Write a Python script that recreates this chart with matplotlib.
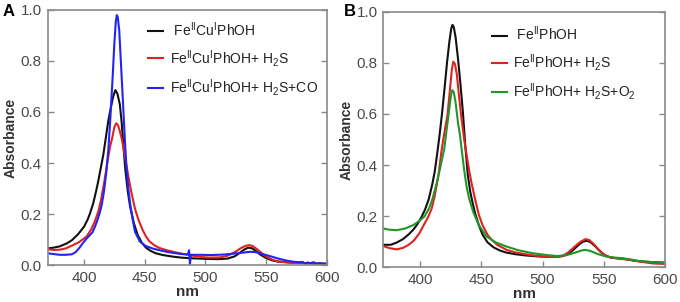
"""
UV-vis spectra, two panels (A: Fe/Cu complex, B: Fe only)
absorbance vs wavelength, values read off the original figure
"""
from matplotlib import pyplot as plt
import numpy as np

plt.rcParams['font.family'] = ['Liberation Sans', 'DejaVu Sans']

# ---------------- panel A data ----------------
a_wl_black = [370, 375, 380, 386, 390, 395, 400, 403, 405, 407.5, 410, 412, 414, 416, 418, 420, 422, 424, 425.8,
              427.5, 429.5, 431, 432.5, 434, 436, 438, 441, 444, 447.5, 451, 455, 459, 465, 473, 480, 490, 500, 510,
              518, 524, 528, 532, 535, 538, 541, 545, 550, 555, 560, 570, 580, 590, 600]
a_black = [0.065, 0.068, 0.073, 0.085, 0.097, 0.120, 0.150, 0.178, 0.203, 0.240, 0.290, 0.335, 0.385, 0.435, 0.500,
           0.565, 0.615, 0.660, 0.686, 0.672, 0.630, 0.560, 0.465, 0.375, 0.290, 0.228, 0.165, 0.120, 0.088, 0.068,
           0.055, 0.046, 0.039, 0.033, 0.029, 0.026, 0.024, 0.023, 0.025, 0.034, 0.047, 0.061, 0.068, 0.066, 0.057,
           0.041, 0.027, 0.018, 0.013, 0.010, 0.008, 0.006, 0.005]

a_wl_red = [370, 375, 380, 385, 391, 396, 402, 406, 409, 411.8, 414, 416.5, 419.5, 421.5, 423.3, 425, 426.5, 428,
            429.5, 431, 433, 435, 437, 439, 442, 445, 448, 451, 454, 458, 462, 468, 475, 482, 490, 497, 504, 512, 518,
            524, 529, 533, 536, 539, 543, 547, 551, 556, 561, 570, 580, 590, 600]
a_red = [0.062, 0.059, 0.060, 0.065, 0.078, 0.090, 0.111, 0.140, 0.172, 0.210, 0.255, 0.320, 0.410, 0.465, 0.500,
         0.540, 0.556, 0.548, 0.525, 0.497, 0.445, 0.390, 0.335, 0.285, 0.220, 0.175, 0.140, 0.112, 0.092, 0.077,
         0.067, 0.058, 0.050, 0.043, 0.036, 0.031, 0.029, 0.030, 0.036, 0.050, 0.066, 0.075, 0.078, 0.074, 0.060,
         0.043, 0.030, 0.019, 0.013, 0.009, 0.007, 0.006, 0.005]

a_wl_blue = [370, 375, 380, 385, 390, 393, 396, 399, 402, 405, 407, 409, 411, 413, 414.6, 416.5, 418.5, 420, 421.5,
             423.6, 425, 426.2, 427, 427.8, 429, 430, 431, 432.5, 433.8, 435, 436.5, 438, 440, 442, 446, 451, 457,
             463, 470, 480, 485.5, 486.5, 487.2, 488, 495, 505, 515, 522, 530, 537, 542, 547, 553, 560, 567, 572,
             577, 580, 582, 584, 586, 589, 592, 594, 597, 600]
a_blue = [0.046, 0.043, 0.040, 0.040, 0.042, 0.050, 0.066, 0.085, 0.103, 0.118, 0.128, 0.150, 0.175, 0.205, 0.235,
          0.290, 0.370, 0.450, 0.560, 0.738, 0.870, 0.955, 0.980, 0.972, 0.920, 0.830, 0.738, 0.600, 0.477, 0.380,
          0.300, 0.240, 0.180, 0.130, 0.092, 0.074, 0.064, 0.057, 0.050, 0.043, 0.042, 0.058, 0.002, 0.040, 0.040,
          0.039, 0.041, 0.044, 0.048, 0.052, 0.050, 0.043, 0.035, 0.025, 0.017, 0.013, 0.011, 0.012, 0.005, 0.010,
          0.007, 0.011, 0.003, 0.008, 0.004, 0.005]

# ---------------- panel B data ----------------
b_wl_black = [370, 376, 381, 386, 391, 395, 398, 401, 404, 407, 410, 412, 414, 416, 418, 420, 422, 424, 425.5, 426.5,
              427.5, 429, 431, 433, 435, 437, 439, 441, 443, 445, 448, 451, 455, 460, 465, 470, 478, 487, 495, 505,
              512, 518, 522, 526, 530, 533, 536, 539, 543, 547, 551, 555, 560, 565, 570, 575, 580, 590, 600]
b_black = [0.088, 0.088, 0.097, 0.110, 0.130, 0.150, 0.170, 0.195, 0.225, 0.265, 0.325, 0.375, 0.445, 0.520, 0.605,
           0.700, 0.800, 0.885, 0.935, 0.948, 0.940, 0.900, 0.815, 0.715, 0.605, 0.470, 0.360, 0.295, 0.250, 0.210,
           0.165, 0.128, 0.098, 0.078, 0.066, 0.058, 0.051, 0.046, 0.043, 0.041, 0.041, 0.046, 0.056, 0.072, 0.090,
           0.100, 0.104, 0.099, 0.082, 0.062, 0.047, 0.039, 0.036, 0.034, 0.030, 0.026, 0.023, 0.020, 0.018]

b_wl_red = [370, 375, 381, 386, 390.4, 395, 399.4, 403, 406.7, 409.5, 412, 415, 417.6, 420, 422.5, 424.5, 426, 427.1,
            428.5, 430, 432, 434, 436, 438, 440, 442, 445, 448, 451, 455, 458.5, 463, 470.7, 478, 490, 500, 510, 516,
            521, 526, 531, 535, 538, 542, 546, 550, 555, 560, 570, 580, 590, 600]
b_red = [0.083, 0.075, 0.070, 0.076, 0.087, 0.105, 0.133, 0.165, 0.198, 0.230, 0.280, 0.360, 0.459, 0.530, 0.600,
         0.700, 0.775, 0.804, 0.795, 0.755, 0.660, 0.575, 0.500, 0.440, 0.380, 0.330, 0.265, 0.205, 0.165, 0.128,
         0.107, 0.088, 0.068, 0.058, 0.048, 0.042, 0.040, 0.043, 0.058, 0.080, 0.100, 0.110, 0.107, 0.090, 0.068,
         0.050, 0.039, 0.035, 0.030, 0.022, 0.015, 0.013]

b_wl_green = [370, 375, 381, 388, 394.5, 399, 403.5, 407.3, 410, 413.6, 416.5, 419.8, 422, 424, 425.3, 426.3, 427.5,
              429, 431, 432.5, 434, 436, 438, 440, 443.5, 448, 454.4, 462, 470.7, 480, 492, 505, 512, 520, 527, 532,
              535, 539, 545, 552, 558, 565, 570, 578, 590, 600]
b_green = [0.152, 0.147, 0.145, 0.152, 0.165, 0.180, 0.198, 0.230, 0.265, 0.329, 0.390, 0.465, 0.550, 0.625, 0.675,
           0.693, 0.685, 0.645, 0.565, 0.520, 0.460, 0.380, 0.315, 0.270, 0.215, 0.165, 0.120, 0.097, 0.081, 0.067,
           0.055, 0.047, 0.044, 0.048, 0.058, 0.066, 0.068, 0.064, 0.052, 0.042, 0.038, 0.036, 0.032, 0.025, 0.020,
           0.018]

a_labels = [r" Fe$^{\mathregular{II}}$Cu$^{\mathregular{I}}$PhOH",
            r"Fe$^{\mathregular{II}}$Cu$^{\mathregular{I}}$PhOH+ H$_{\mathregular{2}}$S",
            r"Fe$^{\mathregular{II}}$Cu$^{\mathregular{I}}$PhOH+ H$_{\mathregular{2}}$S+CO"]
b_labels = [r" Fe$^{\mathregular{II}}$PhOH",
            r"Fe$^{\mathregular{II}}$PhOH+ H$_{\mathregular{2}}$S",
            r"Fe$^{\mathregular{II}}$PhOH+ H$_{\mathregular{2}}$S+O$_{\mathregular{2}}$"]

xticks = [400, 450, 500, 550, 600]
yticks = [0.0, 0.2, 0.4, 0.6, 0.8, 1.0]

BLACK = "#111111"
RED = "#e0221f"
BLUE = "#2323f5"
GREEN = "#1f972b"
GRAY = "#8a8a8a"
TXT = "#4a4a4a"


def StyleAxes(ax):
	ax.set_xlim(370, 600)
	ax.set_ylim(0, 1.0)
	ax.set_xticks(xticks)
	ax.set_yticks(yticks)
	ax.set_yticklabels(["{:.1f}".format(t) for t in yticks])
	for s in ax.spines.values():
		s.set_color(GRAY)
		s.set_linewidth(1.2)
	ax.tick_params(direction="in", length=4, width=1, color=GRAY, labelcolor=TXT,
				   labelsize=11, right=True, top=False, pad=4)
	ax.set_xlabel("nm", fontsize=11, fontweight="bold", color="#333333", labelpad=0)
	ax.set_ylabel("Absorbance", fontsize=10, fontweight="bold", color="#333333", labelpad=2)


fig = plt.figure(figsize=(6.8, 3.02), dpi=100)

axA = fig.add_axes([0.0699, 0.1225, 0.411, 0.8444])
lw = 1.5
axA.plot(a_wl_black, a_black, color=BLACK, lw=lw, label=a_labels[0])
axA.plot(a_wl_red, a_red, color=RED, lw=lw, label=a_labels[1])
axA.plot(a_wl_blue, a_blue, color=BLUE, lw=lw, label=a_labels[2])
StyleAxes(axA)
legA = axA.legend(loc="upper left", bbox_to_anchor=(0.36, 0.958), frameon=False, fontsize=10,
				  handlelength=1.1, handletextpad=0.45, labelspacing=0.6, borderpad=0, borderaxespad=0)
for t in legA.get_texts():
	t.set_color("#222222")

axB = fig.add_axes([0.5637, 0.1149, 0.4143, 0.8467])
axB.plot(b_wl_black, b_black, color=BLACK, lw=lw, label=b_labels[0])
axB.plot(b_wl_red, b_red, color=RED, lw=lw, label=b_labels[1])
axB.plot(b_wl_green, b_green, color=GREEN, lw=lw, label=b_labels[2])
StyleAxes(axB)
legB = axB.legend(loc="upper left", bbox_to_anchor=(0.385, 0.948), frameon=False, fontsize=10,
				  handlelength=1.1, handletextpad=0.45, labelspacing=0.6, borderpad=0, borderaxespad=0)
for t in legB.get_texts():
	t.set_color("#222222")

# panel letters
fig.text(0.004, 0.962, "A", fontsize=12, fontweight="bold", va="center", ha="left")
fig.text(0.506, 0.962, "B", fontsize=12, fontweight="bold", va="center", ha="left")

fig.savefig("out.png", dpi=100)
